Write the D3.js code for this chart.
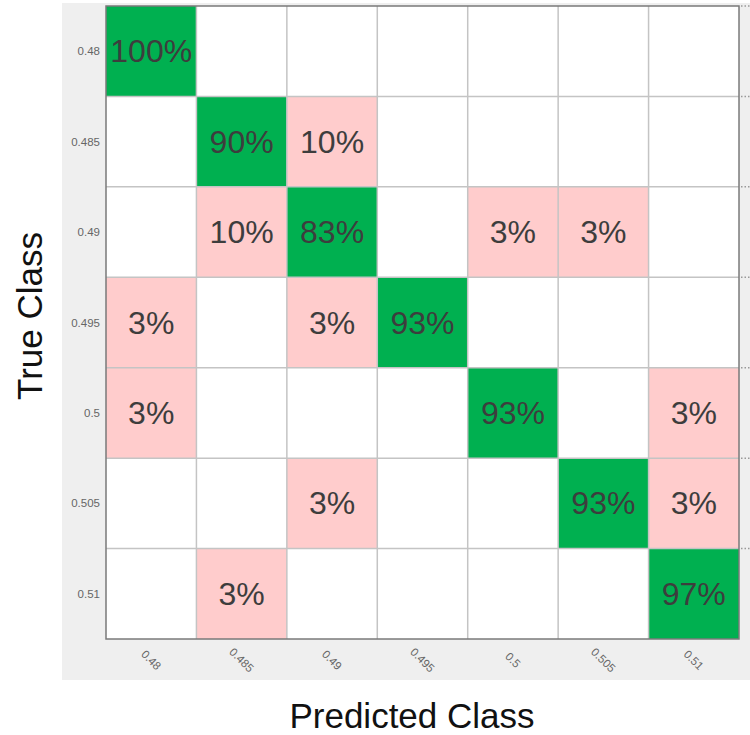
<!DOCTYPE html>
<html>
<head>
<meta charset="utf-8">
<script src="https://d3js.org/d3.v7.min.js"></script>
<style>
	html, body{ margin:0; padding:0; background:#fff; }
	svg{ display:block; font-family:"Liberation Sans", Arial, sans-serif; }
</style>
</head>
<body>
<div id="chart"></div>
<script>
// class labels (same for both axes)
var classes = ["0.48", "0.485", "0.49", "0.495", "0.5", "0.505", "0.51"];
// rows = true class, cols = predicted class, percent
var row048  = [100, 0, 0, 0, 0, 0, 0];
var row0485 = [0, 90, 10, 0, 0, 0, 0];
var row049  = [0, 10, 83, 0, 3, 3, 0];
var row0495 = [3, 0, 3, 93, 0, 0, 0];
var row05   = [3, 0, 0, 0, 93, 0, 3];
var row0505 = [0, 0, 3, 0, 0, 93, 3];
var row051  = [0, 3, 0, 0, 0, 0, 97];
var matrix = [row048, row0485, row049, row0495, row05, row0505, row051];

;(function(d3){
	var width = 750,
		height = 735,
		gx0 = 106, gx1 = 739,
		gy0 = 6, gy1 = 639;

	var svg = d3.select("#chart").append("svg")
		.attr("width", width)
		.attr("height", height);

	// gray panel behind the plot
	svg.append("rect").attr("x", 62).attr("y", 3)
		.attr("width", width - 62).attr("height", 677)
		.attr("fill", "#efefef");

	var x = d3.scaleBand().domain(classes).range([gx0, gx1]),
		y = d3.scaleBand().domain(classes).range([gy0, gy1]);

	var cells = [];
	matrix.forEach(function(row, i){
		row.forEach(function(v, j){
			cells.push({t: classes[i], p: classes[j], v: v, diag: i === j});
		});
	});

	function fillOf(d){
		if(d.diag) return "#00b050";
		if(d.v > 0) return "#ffcccc";
		return "#ffffff";
	}

	var g = svg.append("g");
	g.selectAll("rect.cell").data(cells).enter().append("rect")
		.attr("class", "cell")
		.attr("x", function(d){ return x(d.p); })
		.attr("y", function(d){ return y(d.t); })
		.attr("width", x.bandwidth())
		.attr("height", y.bandwidth())
		.attr("fill", fillOf);

	// inner grid lines
	var grid = svg.append("g").attr("stroke", "#c4c4c4").attr("stroke-width", 1.5);
	classes.slice(1).forEach(function(c){
		grid.append("line").attr("x1", x(c)).attr("x2", x(c))
			.attr("y1", gy0).attr("y2", gy1);
		grid.append("line").attr("y1", y(c)).attr("y2", y(c))
			.attr("x1", gx0).attr("x2", gx1);
	});

	// dotted ticks on the right side
	var ticks = svg.append("g").attr("stroke", "#999").attr("stroke-width", 1.5)
		.attr("stroke-dasharray", "1.5,2");
	classes.forEach(function(c){
		ticks.append("line").attr("x1", gx1 + 2).attr("x2", 750)
			.attr("y1", y(c)).attr("y2", y(c));
	});

	// border
	svg.append("rect").attr("x", gx0).attr("y", gy0)
		.attr("width", gx1 - gx0).attr("height", gy1 - gy0)
		.attr("fill", "none").attr("stroke", "#7a7a7a").attr("stroke-width", 1.5);

	// percentages
	g.selectAll("text.val").data(cells.filter(function(d){ return d.v > 0; }))
		.enter().append("text")
		.attr("class", "val")
		.attr("x", function(d){ return x(d.p) + x.bandwidth() / 2; })
		.attr("y", function(d){ return y(d.t) + y.bandwidth() / 2 + 11; })
		.attr("text-anchor", "middle")
		.attr("font-size", 32)
		.attr("fill", "#3d3d3d")
		.text(function(d){ return d.v + "%"; });

	// y tick labels
	svg.append("g").selectAll("text").data(classes).enter().append("text")
		.attr("x", 100)
		.attr("y", function(d){ return y(d) + y.bandwidth() / 2 + 4; })
		.attr("text-anchor", "end")
		.attr("font-size", 11.5)
		.attr("fill", "#666")
		.text(function(d){ return d; });

	// x tick labels, rotated
	svg.append("g").selectAll("text").data(classes).enter().append("text")
		.attr("transform", function(d){
			return "translate(" + (x(d) + x.bandwidth() / 2) + "," + (gy1 + 21) + ") rotate(45)";
		})
		.attr("text-anchor", "middle")
		.attr("dy", "0.35em")
		.attr("font-size", 11.5)
		.attr("fill", "#666")
		.text(function(d){ return d; });

	// axis titles
	svg.append("text")
		.attr("x", 412).attr("y", 728)
		.attr("text-anchor", "middle")
		.attr("font-size", 35)
		.attr("fill", "#111")
		.text("Predicted Class");
	svg.append("text")
		.attr("transform", "translate(42,316) rotate(-90)")
		.attr("text-anchor", "middle")
		.attr("font-size", 35)
		.attr("fill", "#111")
		.text("True Class");
})(d3);
</script>
</body>
</html>
